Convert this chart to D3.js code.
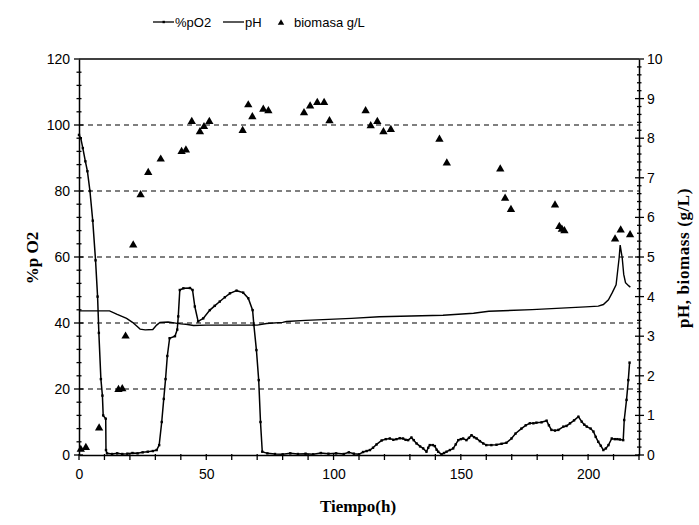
<!DOCTYPE html>
<html>
<head>
<meta charset="utf-8">
<script src="https://cdn.jsdelivr.net/npm/d3@7"></script>
<style>
  html, body { margin: 0; padding: 0; background: #fff; }
  svg { display: block; }
  .tick-label { font-family: "Liberation Sans", Arial, sans-serif; font-size: 14px; fill: #000; }
  .title { font-family: "Liberation Serif", "Times New Roman", serif; font-weight: bold; font-size: 17px; fill: #000; }
  .legend { font-family: "Liberation Sans", Arial, sans-serif; font-size: 13px; fill: #000; }
</style>
</head>
<body>
<div id="chart"></div>
<script>
// ---------------- DATA ----------------
const legendLabels = ["%pO2", "pH", "biomasa g/L"];
const xTickLabels = [0, 50, 100, 150, 200];
const leftTickLabels = [0, 20, 40, 60, 80, 100, 120];
const rightTickLabels = [0, 1, 2, 3, 4, 5, 6, 7, 8, 9, 10];
const gridValues = [20, 40, 60, 80, 100];

// %pO2 (left axis)
const pO2Time = [0,0.7,1.5,2.5,3.3,4.3,5.4,6.5,7.3,7.8,8.6,9.2,9.5,10.5,10.6,11,13,15,17,19,21,23,25,27,29,30.5,31.5,32.5,33.3,34,34.7,35.6,37.7,38.6,39,39.6,41,43.6,44.6,45.5,46.8,48.8,51.4,53.3,55.3,57.3,59.3,61.9,64.5,66.5,68.2,68.7,69.7,70.6,71.3,72,74,77,80,83,86,89,92,95,98,101,104,106,108,110,111.6,113,114.3,115.5,116.9,118.9,120.5,122.1,123.5,124.7,126,127.3,128.3,129.3,130.6,131.5,132.6,134,135.2,136.5,137.2,137.8,139,139.8,140.5,141.1,142.4,143.4,144.4,145.7,147,148,149,150,150.9,152.2,153.2,154.2,155.2,156.2,157.5,158.8,160,162,164,166,167.9,169.9,171.5,173.8,175.5,177.1,178.5,179.7,181.7,183.7,184.6,185.6,187,188.3,190.3,191.5,192.9,194.5,196.2,197.5,198.5,199.5,201,202.1,203,204,205,206,207,208,209.3,210.5,211.5,212.5,213.8,214.2,215.1,215.8,216.3];
const pO2Values = [97,96,93,89,86,80,71,59,48,37,23,18,12,11,1.5,0.5,0.3,0.5,0.3,0.4,0.6,0.5,0.8,1,1.2,1.5,3,10,17,23,30,35.4,36,38,42,50,50.5,50.6,50,45,40.5,41.4,43.9,45.2,46.5,47.8,49,49.8,49.2,47.5,43.9,39.4,31.8,22.7,10,1,0.5,0.3,0.2,0.5,0.3,0.4,0.2,0.6,0.4,0.5,0.3,0.8,0.4,0.2,0.9,1.2,1.5,2.2,3.2,4.4,4.8,5,4.6,4.8,5.1,5,4.6,4.5,5.3,4.5,3.5,2.6,2,1,2.2,3,3,2.7,1.6,1,0.2,0.6,1,1.5,2,3.2,4.5,4.8,5,4.5,5.2,6,5.4,5,4.2,3.5,3,3,3.1,3.4,3.7,5,6.5,8,9,9.6,9.6,9.8,9.9,10.4,9,7.6,7.4,7.6,8.6,8.8,9.6,10.5,11.6,10.1,9.2,8.6,8,7.1,5.5,4,2.8,1.5,2,3,5,4.8,4.8,4.7,4.5,10.6,16.7,22.7,28];

// pH (right axis)
const pHTime = [0,12,15,18.7,21,23,24,26,29,30.5,31.8,35,38,40,42,45,50,55,60,65,70,73.7,80,81.5,89,107,118,143,155,161,178,199,204,206,208,209.5,211,211.6,212.2,212.6,213.4,214,214.7,216,216.6];
const pHValues = [3.64,3.64,3.55,3.45,3.35,3.24,3.18,3.16,3.17,3.28,3.35,3.36,3.33,3.31,3.3,3.27,3.28,3.28,3.28,3.28,3.28,3.32,3.35,3.37,3.4,3.45,3.49,3.53,3.58,3.63,3.67,3.74,3.76,3.8,3.92,4.1,4.3,4.64,4.98,5.3,4.98,4.56,4.35,4.27,4.24];

// biomasa g/L (right axis)
const bioTime = [0.7,2.7,7.9,15.5,17,18.3,21.3,24.2,27.2,32.1,40.3,42,44.3,47.5,49.1,51.2,64.3,66.5,68.1,72.4,74.4,88.4,90.8,93.6,96.3,98.4,112.6,114.6,117.2,119.6,122.5,141.6,144.5,165.5,167.4,169.7,187,188.7,189.7,190.7,210.6,212.8,216.5];
const bioValues = [0.14,0.19,0.68,1.65,1.67,3.0,5.3,6.57,7.13,7.47,7.66,7.7,8.42,8.16,8.29,8.42,8.19,8.84,8.54,8.73,8.69,8.64,8.81,8.9,8.9,8.44,8.69,8.31,8.42,8.16,8.22,7.97,7.37,7.22,6.48,6.2,6.31,5.77,5.7,5.66,5.45,5.68,5.56];

// ---------------- CHART ----------------
const W = 699, H = 525;
const svg = d3.select("#chart").append("svg").attr("width", W).attr("height", H);

const x = d3.scaleLinear().domain([0, 220]).range([79, 639]);
const yL = d3.scaleLinear().domain([0, 120]).range([455, 59]);
const yR = d3.scaleLinear().domain([0, 10]).range([455, 59]);

// gridlines
svg.append("g").selectAll("line").data(gridValues).join("line")
  .attr("x1", x(0)).attr("x2", x(220))
  .attr("y1", d => yL(d)).attr("y2", d => yL(d))
  .attr("stroke", "#000").attr("stroke-width", 1.2).attr("stroke-dasharray", "5,4");

// frame: top border
svg.append("line").attr("x1", x(0)).attr("x2", x(220)).attr("y1", yL(120)).attr("y2", yL(120))
  .attr("stroke", "#000").attr("stroke-width", 1.3);

// left axis
const leftAxis = svg.append("g").attr("transform", `translate(${x(0)},0)`);
leftAxis.call(d3.axisLeft(yL).tickValues(leftTickLabels).tickSize(0).tickFormat(d3.format("d")).tickPadding(9));
leftAxis.select(".domain").attr("stroke", "#000").attr("stroke-width", 1.5);
leftAxis.selectAll("text").attr("class", "tick-label").attr("font-family", null).attr("font-size", null);
leftAxis.append("g").selectAll("line").data(d3.range(0, 121, 4)).join("line")
  .attr("x1", d => d % 20 === 0 ? -5 : -2.5)
  .attr("x2", d => d === 120 ? 0 : (d % 20 === 0 ? 4 : 2.5))
  .attr("y1", d => yL(d)).attr("y2", d => yL(d))
  .attr("stroke", "#000").attr("stroke-width", 1.3);

// right axis
const rightAxis = svg.append("g").attr("transform", `translate(${x(220)},0)`);
rightAxis.call(d3.axisRight(yR).tickValues(rightTickLabels).tickSize(0).tickFormat(d3.format("d")).tickPadding(8));
rightAxis.select(".domain").attr("stroke", "#000").attr("stroke-width", 1.5);
rightAxis.selectAll("text").attr("class", "tick-label").attr("font-family", null).attr("font-size", null);
rightAxis.append("g").selectAll("line").data(d3.range(0, 50.5, 1)).join("line")
  .attr("x1", d => d % 5 === 0 ? (d === 50 ? 0 : -4) : -2)
  .attr("x2", d => d % 5 === 0 ? 5 : 2.5)
  .attr("y1", d => yR(d / 5)).attr("y2", d => yR(d / 5))
  .attr("stroke", "#000").attr("stroke-width", 1.3);

// bottom axis
const bottomAxis = svg.append("g").attr("transform", `translate(0,${yL(0)})`);
bottomAxis.call(d3.axisBottom(x).tickValues(xTickLabels).tickSize(0).tickFormat(d3.format("d")).tickPadding(14));
bottomAxis.select(".domain").attr("stroke", "#000").attr("stroke-width", 1.5);
bottomAxis.selectAll("text").attr("class", "tick-label").attr("font-family", null).attr("font-size", null);
bottomAxis.append("g").selectAll("line").data(d3.range(0, 221, 10)).join("line")
  .attr("x1", d => x(d)).attr("x2", d => x(d))
  .attr("y1", -1).attr("y2", 5)
  .attr("stroke", "#000").attr("stroke-width", 1.3);

// pH line
const pHData = pHTime.map((t, i) => ({ t, v: pHValues[i] }));
svg.append("path").datum(pHData)
  .attr("fill", "none").attr("stroke", "#000").attr("stroke-width", 1.4)
  .attr("d", d3.line().x(d => x(d.t)).y(d => yR(d.v)));

// pO2 line with small markers
const pO2Data = pO2Time.map((t, i) => ({ t, v: pO2Values[i] }));
svg.append("path").datum(pO2Data)
  .attr("fill", "none").attr("stroke", "#000").attr("stroke-width", 1.5)
  .attr("d", d3.line().x(d => x(d.t)).y(d => yL(d.v)));
svg.append("g").selectAll("rect").data(pO2Data).join("rect")
  .attr("x", d => x(d.t) - 1.2).attr("y", d => yL(d.v) - 1.2)
  .attr("width", 2.4).attr("height", 2.4).attr("fill", "#000");

// biomass triangles
const bioData = bioTime.map((t, i) => ({ t, v: bioValues[i] }));
const tri = d3.symbol().type(d3.symbolTriangle).size(30);
svg.append("g").selectAll("path").data(bioData).join("path")
  .attr("transform", d => `translate(${x(d.t)},${yR(d.v)})`)
  .attr("d", tri).attr("fill", "#000");

// axis titles
svg.append("text").attr("class", "title")
  .attr("x", 358).attr("y", 512).attr("text-anchor", "middle").text("Tiempo(h)");
svg.append("text").attr("class", "title")
  .attr("transform", "translate(38,258) rotate(-90)").attr("text-anchor", "middle").text("%p O2");
svg.append("text").attr("class", "title")
  .attr("transform", "translate(689,258) rotate(-90)").attr("text-anchor", "middle")
  .attr("letter-spacing", "0.6").text("pH, biomass (g/L)");

// legend
const lg = svg.append("g");
const ly = 22;
lg.append("line").attr("x1", 153).attr("x2", 174).attr("y1", ly).attr("y2", ly).attr("stroke", "#000").attr("stroke-width", 1.3);
lg.append("rect").attr("x", 162.5).attr("y", ly - 1.2).attr("width", 2.4).attr("height", 2.4).attr("fill", "#000");
lg.append("text").attr("class", "legend").attr("x", 175).attr("y", ly + 5).text(legendLabels[0]);
lg.append("line").attr("x1", 223).attr("x2", 244).attr("y1", ly).attr("y2", ly).attr("stroke", "#000").attr("stroke-width", 1.3);
lg.append("text").attr("class", "legend").attr("x", 245).attr("y", ly + 5).text(legendLabels[1]);
lg.append("path").attr("transform", `translate(281,${ly + 1})`).attr("d", d3.symbol().type(d3.symbolTriangle).size(18)).attr("fill", "#000");
lg.append("text").attr("class", "legend").attr("x", 294).attr("y", ly + 5).text(legendLabels[2]);
</script>
</body>
</html>
